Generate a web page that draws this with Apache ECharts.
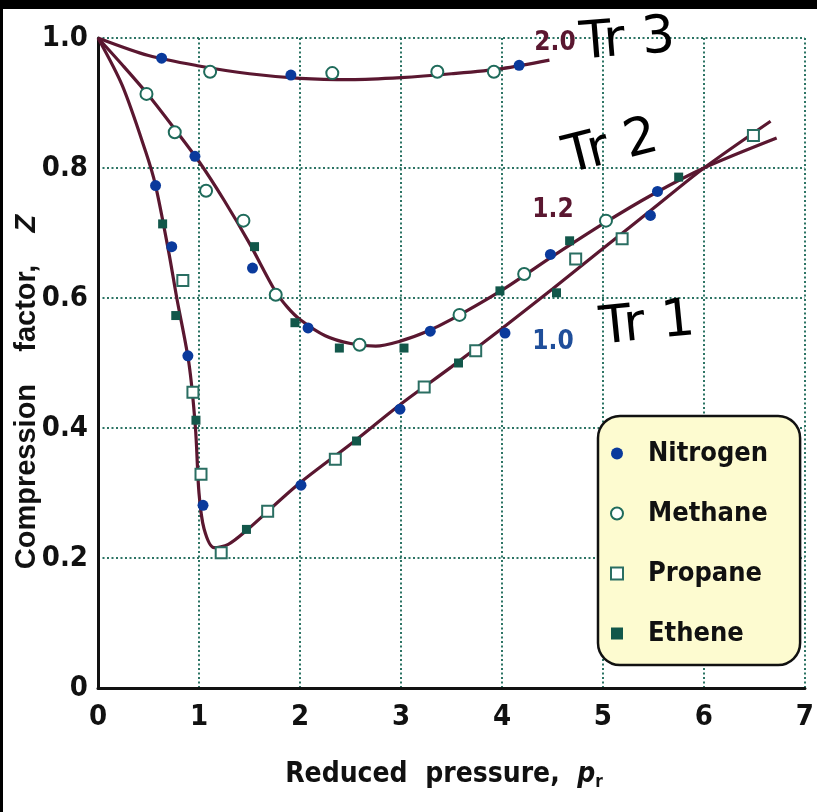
<!DOCTYPE html>
<html><head><meta charset="utf-8">
<script src="https://cdn.jsdelivr.net/npm/echarts@6/dist/echarts.min.js"></script>
<style>html,body{margin:0;padding:0;background:#fff}#c{width:817px;height:812px}</style>
</head><body><div id="c"></div>
<script>
// Curves (reduced temperature Tr)
const curveTr20 = [[0,1.0],[0.5,0.973],[1,0.957],[1.5,0.945],[2,0.938],[2.5,0.936],[3,0.939],[3.5,0.945],[4,0.953],[4.47,0.966]];
const curveTr12 = [[0,1.0],[0.25,0.957],[0.5,0.912],[0.75,0.862],[1,0.81],[1.25,0.75],[1.5,0.684],[1.75,0.612],[1.875,0.586],[2,0.567],[2.25,0.542],[2.5,0.53],[2.75,0.526],[3,0.534],[3.25,0.548],[3.5,0.567],[4,0.612],[4.5,0.664],[5,0.714],[5.5,0.76],[6,0.8],[6.72,0.846]];
const curveTr10 = [[0,1.0],[0.24,0.927],[0.47,0.826],[0.57,0.773],[0.7,0.671],[0.78,0.6],[0.9,0.5],[0.965,0.4],[1.0,0.3],[1.05,0.245],[1.15,0.216],[1.29,0.221],[1.46,0.241],[1.98,0.313],[2.5,0.375],[3,0.437],[3.5,0.494],[4,0.553],[4.5,0.614],[5,0.676],[5.5,0.738],[6,0.8],[6.66,0.872]];
// Measured gases
const nitrogen = [[0.63,0.969],[1.91,0.943],[4.17,0.958],[0.96,0.818],[1.53,0.646],[2.08,0.554],[3.29,0.549],[4.48,0.667],[5.54,0.764],[0.57,0.773],[0.73,0.679],[0.89,0.511],[1.04,0.281],[2.01,0.312],[2.99,0.429],[4.03,0.546],[5.47,0.727]];
const methane = [[1.11,0.948],[2.32,0.946],[3.36,0.948],[3.92,0.948],[0.48,0.914],[0.76,0.855],[1.07,0.765],[1.44,0.719],[1.76,0.605],[2.59,0.528],[3.58,0.574],[4.22,0.637],[5.03,0.719]];
const propane = [[0.84,0.627],[0.94,0.455],[1.02,0.329],[1.22,0.208],[1.68,0.272],[2.35,0.352],[3.23,0.463],[3.74,0.519],[4.73,0.660],[5.19,0.691],[6.49,0.850]];
const ethene = [[1.55,0.679],[1.95,0.562],[2.39,0.523],[3.03,0.523],[3.98,0.611],[4.67,0.688],[5.75,0.786],[0.64,0.714],[0.77,0.573],[0.97,0.412],[1.47,0.244],[2.56,0.380],[3.57,0.500],[4.54,0.608]];
const xTicks = ['0','1','2','3','4','5','6','7'];
const yTicks = ['0','0.2','0.4','0.6','0.8','1.0'];
const curveLabels = ['2.0','1.2','1.0'];
const seriesNames = ['Nitrogen','Methane','Propane','Ethene'];

const FONT = '"Liberation Sans Narrow","DejaVu Sans Condensed","Liberation Sans",sans-serif';
const maroon = '#5a1730';
const teal = '#1f6b5b';
const chart = echarts.init(document.getElementById('c'), null, {renderer:'canvas'});
const lineSeries = (data) => ({type:'line', data, smooth:0.3, showSymbol:false, silent:true,
  lineStyle:{color:maroon, width:3.2}, z:2});
chart.setOption({
  animation:false,
  backgroundColor:'#fff',
  grid:{left:98, right:11, top:38, bottom:124},
  xAxis:{type:'value', min:0, max:7, interval:1,
    axisLine:{show:true, onZero:false, lineStyle:{color:'#111', width:3}},
    axisTick:{show:false},
    axisLabel:{margin:15, fontFamily:FONT, fontWeight:'bold', fontSize:29, color:'#111',
      formatter:(v)=>xTicks[Math.round(v)]},
    splitLine:{show:true, lineStyle:{type:[2,2.5], color:'#2c7464', width:2}}},
  yAxis:{type:'value', min:0, max:1, interval:0.2,
    axisLine:{show:true, onZero:false, lineStyle:{color:'#111', width:3}},
    axisTick:{show:false},
    axisLabel:{margin:10, fontFamily:FONT, fontWeight:'bold', fontSize:29, color:'#111',
      formatter:(v)=>yTicks[Math.round(v*5)]},
    splitLine:{show:true, lineStyle:{type:[2,2.5], color:'#2c7464', width:2}}},
  legend:{orient:'vertical', left:598, top:416, data:seriesNames,
    backgroundColor:'#fdfbd0', borderColor:'#111', borderWidth:2.5, borderRadius:22,
    padding:[20,32,14,12], itemGap:25, itemWidth:12, itemHeight:12,
    textStyle:{fontFamily:FONT, fontWeight:'bold', fontSize:27, color:'#111', lineHeight:35, padding:[0,0,0,20]}},
  series:[
    lineSeries(curveTr20), lineSeries(curveTr12), lineSeries(curveTr10),
    {name:'Nitrogen', type:'scatter', data:nitrogen, symbol:'circle', symbolSize:11,
      itemStyle:{color:'#0a3a9c', opacity:1}, z:5},
    {name:'Methane', type:'scatter', data:methane, symbol:'circle', symbolSize:12,
      itemStyle:{color:'#fff', borderColor:teal, borderWidth:2, opacity:1}, z:5},
    {name:'Propane', type:'scatter', data:propane, symbol:'rect', symbolSize:11,
      itemStyle:{color:'#fff', borderColor:'#2a6e62', borderWidth:2, opacity:1}, z:5},
    {name:'Ethene', type:'scatter', data:ethene, symbol:'rect', symbolSize:9,
      itemStyle:{color:'#12574a', opacity:1}, z:5}
  ],
  graphic:[
    {type:'rect', shape:{x:0,y:0,width:817,height:9}, style:{fill:'#000'}, z:100},
    {type:'rect', shape:{x:0,y:0,width:3,height:812}, style:{fill:'#000'}, z:100},
    {type:'text', x:555, y:43, style:{text:curveLabels[0], fill:maroon, font:'bold 26px '+FONT, align:'center', verticalAlign:'middle'}, z:20},
    {type:'text', x:553, y:210, style:{text:curveLabels[1], fill:maroon, font:'bold 26px '+FONT, align:'center', verticalAlign:'middle'}, z:20},
    {type:'text', x:553, y:342, style:{text:curveLabels[2], fill:'#1f4e9a', font:'bold 26px '+FONT, align:'center', verticalAlign:'middle'}, z:20},
    {type:'text', x:444, y:775, style:{text:'{a|Reduced  pressure,  }{i|p}{s|r}', align:'center', verticalAlign:'middle',
      rich:{a:{font:'bold 28px '+FONT, fill:'#111'}, i:{font:'italic bold 28px '+FONT, fill:'#111'}, s:{font:'bold 17px '+FONT, fill:'#111', padding:[15,0,0,0]}}}, z:20},
    {type:'text', x:27, y:392, rotation:Math.PI/2, style:{text:'{a|Compression    factor,    }{i|Z}', align:'center', verticalAlign:'middle',
      rich:{a:{font:'bold 29px "Liberation Sans","DejaVu Sans",sans-serif', fill:'#111'}, i:{font:'italic bold 29px "Liberation Sans",sans-serif', fill:'#111'}}}, z:20},
    {type:'text', x:580, y:45, rotation:0.08, style:{text:'Tr 3', font:'52px "DejaVu Sans",sans-serif', fill:'#000', verticalAlign:'middle'}, z:30},
    {type:'text', x:565, y:160, rotation:0.25, style:{text:'Tr 2', font:'52px "DejaVu Sans",sans-serif', fill:'#000', verticalAlign:'middle'}, z:30},
    {type:'text', x:600, y:330, rotation:0.1, style:{text:'Tr 1', font:'52px "DejaVu Sans",sans-serif', fill:'#000', verticalAlign:'middle'}, z:30}
  ]
});
</script></body></html>
